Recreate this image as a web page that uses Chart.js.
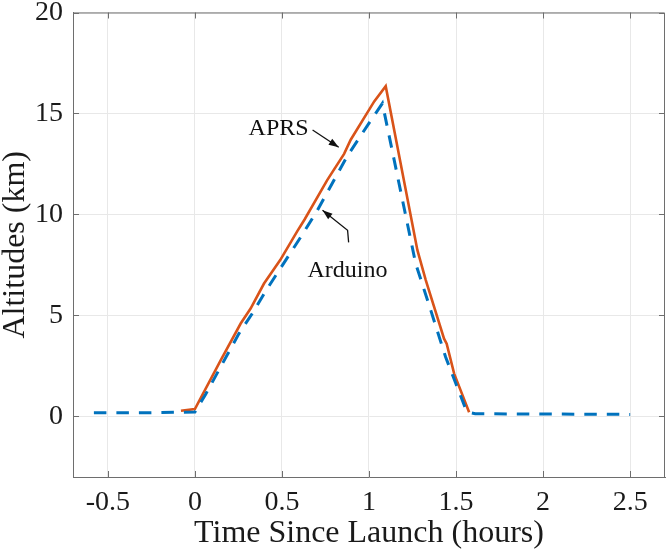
<!DOCTYPE html>
<html>
<head>
<meta charset="utf-8">
<script src="https://cdn.jsdelivr.net/npm/chart.js@4/dist/chart.umd.min.js"></script>
<style>
  html, body { margin: 0; padding: 0; background: #fff; }
  canvas { display: block; }
</style>
</head>
<body>
<canvas id="altChart" width="668" height="552"></canvas>
<script>
// datos
const arduinoTime = [-0.58, -0.3, 0.0, 0.062, 0.186, 0.253, 0.33, 0.406, 0.617, 0.703, 0.876, 1.01, 1.077, 1.268, 1.355, 1.44, 1.555, 1.573, 1.61, 2.0, 2.5];
const arduinoAlt  = [0.18, 0.18, 0.22, 1.1, 3.05, 4.1, 5.1, 6.2, 9.0, 10.2, 12.9, 14.65, 15.5, 7.57, 5.25, 2.94, 0.38, 0.2, 0.13, 0.12, 0.1];

const aprsTime = [-0.08, 0.0, 0.148, 0.263, 0.32, 0.397, 0.49, 0.59, 0.605, 0.63, 0.76, 0.857, 0.895, 1.03, 1.096, 1.278, 1.326, 1.431, 1.446, 1.489, 1.575];
const aprsAlt  = [0.28, 0.36, 2.78, 4.6, 5.34, 6.58, 7.74, 9.2, 9.4, 9.75, 11.7, 13.0, 13.7, 15.6, 16.35, 8.23, 6.75, 3.85, 3.6, 2.12, 0.21];

const xTicks = [-0.5, 0, 0.5, 1, 1.5, 2, 2.5];
const yTicks = [0, 5, 10, 15, 20];

// textos y flechas en coordenadas de datos
const notas = [
    { texto: 'APRS', x: 0.481, y: 13.94, flecha: [[0.676, 14.18], [0.826, 13.33]] },
    { texto: 'Arduino', x: 0.876, y: 6.91, flecha: [[0.883, 8.62], [0.877, 9.22], [0.733, 10.21]] }
];

const serif = "'Liberation Serif', 'Times New Roman', serif";
const ejeColor = '#6e6e6e';

function puntos(xs, ys) {
    return xs.map((x, i) => ({ x: x, y: ys[i] }));
}

// caja, marcas hacia dentro y anotaciones
const extras = {
    id: 'extras',
    afterDraw(chart) {
        const ctx = chart.ctx;
        const a = chart.chartArea;
        const sx = chart.scales.x, sy = chart.scales.y;
        ctx.save();
        ctx.strokeStyle = ejeColor;
        ctx.lineWidth = 1;
        ctx.beginPath();
        ctx.moveTo(a.left, a.top + 0.5);
        ctx.lineTo(a.right - 0.5, a.top + 0.5);
        ctx.lineTo(a.right - 0.5, a.bottom);
        ctx.stroke();
        const tl = 6;
        ctx.beginPath();
        xTicks.forEach(v => {
            const px = Math.round(sx.getPixelForValue(v)) + 0.5;
            ctx.moveTo(px, a.bottom); ctx.lineTo(px, a.bottom - tl);
            ctx.moveTo(px, a.top); ctx.lineTo(px, a.top + tl);
        });
        yTicks.forEach(v => {
            const py = Math.round(sy.getPixelForValue(v)) + 0.5;
            ctx.moveTo(a.left, py); ctx.lineTo(a.left + tl, py);
            ctx.moveTo(a.right, py); ctx.lineTo(a.right - tl, py);
        });
        ctx.stroke();

        ctx.fillStyle = '#111';
        ctx.strokeStyle = '#111';
        ctx.font = '24px ' + serif;
        ctx.textAlign = 'center';
        ctx.textBaseline = 'alphabetic';
        notas.forEach(n => {
            ctx.fillText(n.texto, sx.getPixelForValue(n.x), sy.getPixelForValue(n.y));
            const pts = n.flecha.map(p => [sx.getPixelForValue(p[0]), sy.getPixelForValue(p[1])]);
            ctx.lineWidth = 1.3;
            ctx.beginPath();
            ctx.moveTo(pts[0][0], pts[0][1]);
            for (let i = 1; i < pts.length; i++) ctx.lineTo(pts[i][0], pts[i][1]);
            ctx.stroke();
            const p1 = pts[pts.length - 2], p2 = pts[pts.length - 1];
            const ang = Math.atan2(p2[1] - p1[1], p2[0] - p1[0]);
            const L = 10, W = 3.5;
            ctx.beginPath();
            ctx.moveTo(p2[0], p2[1]);
            ctx.lineTo(p2[0] - L * Math.cos(ang) + W * Math.sin(ang), p2[1] - L * Math.sin(ang) - W * Math.cos(ang));
            ctx.lineTo(p2[0] - L * Math.cos(ang) - W * Math.sin(ang), p2[1] - L * Math.sin(ang) + W * Math.cos(ang));
            ctx.closePath();
            ctx.fill();
        });
        ctx.restore();
    }
};

new Chart(document.getElementById('altChart'), {
    type: 'line',
    data: {
        datasets: [{
            label: 'Arduino',
            data: puntos(arduinoTime, arduinoAlt),
            borderColor: '#0072BD',
            borderWidth: 3,
            borderDash: [12.5, 10],
            pointRadius: 0,
            tension: 0,
            fill: false
        }, {
            label: 'APRS',
            data: puntos(aprsTime, aprsAlt),
            borderColor: '#D95319',
            borderWidth: 2.6,
            pointRadius: 0,
            tension: 0,
            fill: false
        }]
    },
    options: {
        responsive: false,
        animation: false,
        devicePixelRatio: 1,
        layout: { padding: { top: 12.5, right: 3, left: 0, bottom: 0 } },
        plugins: { legend: { display: false }, tooltip: { enabled: false } },
        scales: {
            x: {
                type: 'linear',
                min: -0.7,
                max: 2.7,
                afterBuildTicks: s => { s.ticks = xTicks.map(v => ({ value: v })); },
                afterFit: s => { s.height = 75; s.paddingLeft = 0; s.paddingRight = 0; },
                grid: { color: '#e8e8e8', drawTicks: false },
                border: { display: true, color: ejeColor, width: 1 },
                ticks: {
                    padding: 9,
                    color: '#1a1a1a',
                    font: { family: serif, size: 28 },
                    maxRotation: 0,
                    callback: v => String(v)
                },
                title: {
                    display: true,
                    text: 'Time Since Launch (hours)',
                    color: '#1a1a1a',
                    font: { family: serif, size: 32, lineHeight: 1 },
                    padding: { top: 0, bottom: 2 }
                }
            },
            y: {
                min: -3,
                max: 20,
                afterBuildTicks: s => { s.ticks = yTicks.map(v => ({ value: v })); },
                afterFit: s => { s.width = 73; s.paddingTop = 0; s.paddingBottom = 0; },
                grid: { color: '#e8e8e8', drawTicks: false },
                border: { display: true, color: ejeColor, width: 1 },
                ticks: {
                    padding: 10,
                    color: '#1a1a1a',
                    font: { family: serif, size: 28 },
                    callback: v => String(v)
                },
                title: {
                    display: true,
                    text: 'Altitudes (km)',
                    color: '#1a1a1a',
                    font: { family: serif, size: 32, lineHeight: 1 },
                    padding: { top: 0, bottom: 0 }
                }
            }
        }
    },
    plugins: [extras]
});
</script>
</body>
</html>
